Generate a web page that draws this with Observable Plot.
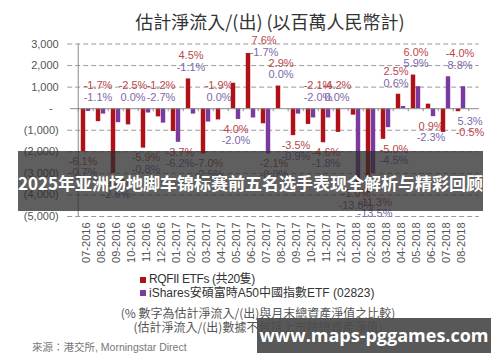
<!DOCTYPE html>
<html><head><meta charset="utf-8">
<script src="https://cdn.jsdelivr.net/npm/d3@7"></script>
<script src="https://cdn.jsdelivr.net/npm/@observablehq/plot@0.6"></script>
<style>
body{margin:0;background:#fff;}
#wrap{position:relative;width:500px;height:362px;overflow:hidden;background:#fff;font-family:"Liberation Sans","Noto Sans CJK TC",sans-serif;}
#chart{position:absolute;left:0;top:0;}
.abs{position:absolute;white-space:nowrap;}
#title{left:70px;width:400px;top:9px;text-align:center;font-family:"Noto Sans CJK TC",sans-serif;font-size:18px;line-height:24px;color:#333;}
.sq{position:absolute;width:6px;height:6px;}
.leg{font-size:12px;line-height:14px;color:#333;font-family:"Liberation Sans","Noto Sans CJK TC",sans-serif;}
.note{left:58px;width:400px;text-align:center;font-size:12px;line-height:14px;color:#555;font-family:"Noto Sans CJK TC",sans-serif;}
#src{left:32px;top:340px;font-size:10.5px;line-height:14px;color:#777;font-family:"Liberation Sans","Noto Sans CJK TC",sans-serif;}
#band1{left:18px;top:151px;width:465px;height:60px;background:rgba(45,45,45,0.76);color:#fff;font-family:"Noto Sans CJK SC",sans-serif;font-weight:bold;font-size:17px;line-height:60px;text-align:center;padding-top:2px;box-sizing:border-box;}
#band2{left:257px;top:318px;width:234px;height:35px;background:rgba(75,75,75,0.93);color:#fff;font-family:"Open Sans",sans-serif;font-weight:bold;font-size:18px;line-height:35px;text-align:center;}
</style></head><body>
<div id="wrap">
  <div id="chart"></div>
  <div id="title" class="abs"></div>
  <div class="sq" style="left:140px;top:277px;background:#b01117"></div>
  <div id="leg1" class="abs leg" style="left:149px;top:272px;letter-spacing:-0.4px"></div>
  <div class="sq" style="left:140px;top:290px;background:#7b3a9e"></div>
  <div id="leg2" class="abs leg" style="left:149px;top:286px"></div>
  <div id="note1" class="abs note" style="top:306px"></div>
  <div id="note2" class="abs note" style="top:320px"></div>
  <div id="src" class="abs"></div>
  <div id="band1" class="abs"></div>
  <div id="band2" class="abs"></div>
</div>
<script>
// ---- data ----
const months = ["07-2016","08-2016","09-2016","10-2016","11-2016","12-2016",
  "01-2017","02-2017","03-2017","04-2017","05-2017","06-2017","07-2017","08-2017",
  "09-2017","10-2017","11-2017","12-2017","01-2018","02-2018","03-2018","04-2018",
  "05-2018","06-2018","07-2018","08-2018"];
// estimated net inflow/(outflow), RMB millions
const rqfii   = [-2000,-600,-3000,-750,-1830,-380,-1060,1380,-2100,-520,1180,2560,-700,1050,
                 -1250,-730,-1580,-1100,-300,-3900,-1420,670,1560,210,-1100,-140];
const ishares = [-130,-250,-650,0,-200,-670,-1560,-250,-620,0,-500,-430,-2100,0,
                 -250,-430,-430,0,-3500,-3000,-880,100,1020,-370,1480,1020];
const rqfiiPct   = ["-6.1%","-1.7%","-9.4%","-2.5%","-5.9%","-1.2%","-3.7%","4.5%","-7.0%","-1.9%","4.0%","7.6%","-2.1%",
                    "2.9%","-3.5%","-2.1%","-4.6%","-4.2%","-1.0%","-11.3%","-5.0%","2.5%","6.0%","0.9%","-4.0%","-0.5%"];
const isharesPct = ["-0.7%","-1.1%","-2.6%","0.0%","-0.8%","-2.7%","-6.2%","-1.1%","-2.5%","0.0%","-2.0%","-1.7%","-8.0%",
                    "0.0%","-0.9%","-2.0%","-1.8%","0.0%","-13.8%","-13.5%","-4.5%","0.6%","5.9%","-2.3%","8.8%","5.3%"];
const yTicks = [3000,2000,1000,0,-1000,-2000,-3000,-4000,-5000];
const seriesNames = ["RQFII ETFs (共20隻)","iShares安碩富時A50中國指數ETF (02823)"];
const titleText = "估計淨流入/(出) (以百萬人民幣計)";
const notes = ["(% 數字為估計淨流入/(出)與月末總資產淨值之比較)","(估計淨流入/(出)數據不包括上市時總資產淨值)"];
const sourceText = "來源：港交所, Morningstar Direct";
const bannerText = "2025年亚洲场地脚车锦标赛前五名选手表现全解析与精彩回顾";
const siteText = "www.maps-pggames.com";

// ---- label layout (annotation placement, not data) ----
const labelSide  = ["B","A","B","A","B","A","B","A","B","A","B","A","B","A","B","A","B","A","B","B","B","A","A","B","A","B"];
const labelNudge = [-3,-3,0,2,0,0,4,0,3,-2,0,13,8,0,0,7,0,-4,0,4,8,-5,0,0,14,9];
const purpleFirst = new Set(["08-2018"]);

// ---- styles ----
const RED = "#b01117", PURPLE = "#7b3a9e";
const RED_T = "#b9474c", PURPLE_T = "#7d68a8";

const W = 500, H = 270, mL = 70.2, mR = 25.2, mT = 43.5, mB = 54;
const step = (W - mL - mR) / months.length;

const data = months.map((m, i) => ({month: m, rq: rqfii[i], ish: ishares[i]}));

// label positions derived from bar ends
const labels = [];
months.forEach((m, i) => {
  const r = rqfii[i], p = ishares[i];
  let first, second;
  if (labelSide[i] === "A") {
    const base = Math.max(0, r, p);
    second = base + 520; first = base + 1070;
    if (first > 3150) { first = 3150; second = 2600; }
  } else {
    const base = Math.min(0, r, p);
    first = base - 450; second = base - 970;
  }
  const pf = purpleFirst.has(m);
  labels.push({month: m, y: pf ? second : first, text: rqfiiPct[i], fill: RED_T, dx: labelNudge[i]});
  labels.push({month: m, y: pf ? first : second, text: isharesPct[i], fill: PURPLE_T, dx: labelNudge[i]});
});
const labelMarks = [...new Set(labels.map(d => d.dx))].map(dx =>
  Plot.text(labels.filter(d => d.dx === dx), {x: "month", y: "y", text: "text", fill: "fill", dx, fontSize: 11}));

const fmt = d => d === 0 ? "-\u00a0\u00a0" : d < 0 ? `(${d3.format(",")(-d)})` : d3.format(",")(d);

const chart = Plot.plot({
  width: W, height: H,
  marginTop: mT, marginBottom: mB, marginLeft: mL, marginRight: mR,
  style: {fontFamily: "'Liberation Sans','Noto Sans CJK TC',sans-serif", fontSize: "11px", color: "#555", background: "transparent"},
  x: {type: "band", domain: months, padding: 0, label: null},
  y: {domain: [-5000, 3000], label: null},
  marks: [
    Plot.gridY(yTicks.filter(d => d !== 0), {stroke: "#9a9a9a", strokeOpacity: 1, strokeDasharray: "5,3", insetLeft: -3, insetRight: -4}),
    ...labelMarks,
    Plot.barY(data, {x: "month", y1: 0, y2: "rq", fill: RED, insetLeft: step/2 - 5, insetRight: step/2}),
    Plot.barY(data, {x: "month", y1: 0, y2: "ish", fill: PURPLE, insetLeft: step/2, insetRight: step/2 - 5}),
    Plot.ruleY([0], {stroke: "#8a8a8a", insetRight: -4}),
    Plot.ruleX(months, {x: d => d, y1: 0, y2: -140, stroke: "#8a8a8a", dx: -step/2}),
    Plot.ruleX([months[months.length-1]], {x: d => d, y1: 0, y2: -140, stroke: "#8a8a8a", dx: step/2}),
    Plot.ruleX([months[0]], {x: d => d, y1: -5000, y2: 3000, stroke: "#8a8a8a", dx: -step/2}),
    Plot.axisY({ticks: yTicks, tickFormat: fmt, tickSize: 0, tickPadding: 12, fontSize: 11, label: null}),
    Plot.axisX({tickRotate: -90, tickSize: 0, tickPadding: 6, fontSize: 11, label: null})
  ]
});
chart.style.color = "#555";
document.getElementById("chart").appendChild(chart);
document.getElementById("title").textContent = titleText;
document.getElementById("leg1").textContent = seriesNames[0];
document.getElementById("leg2").textContent = seriesNames[1];
document.getElementById("note1").textContent = notes[0];
document.getElementById("note2").textContent = notes[1];
document.getElementById("src").textContent = sourceText;
document.getElementById("band1").textContent = bannerText;
document.getElementById("band2").textContent = siteText;
</script>
</body></html>
